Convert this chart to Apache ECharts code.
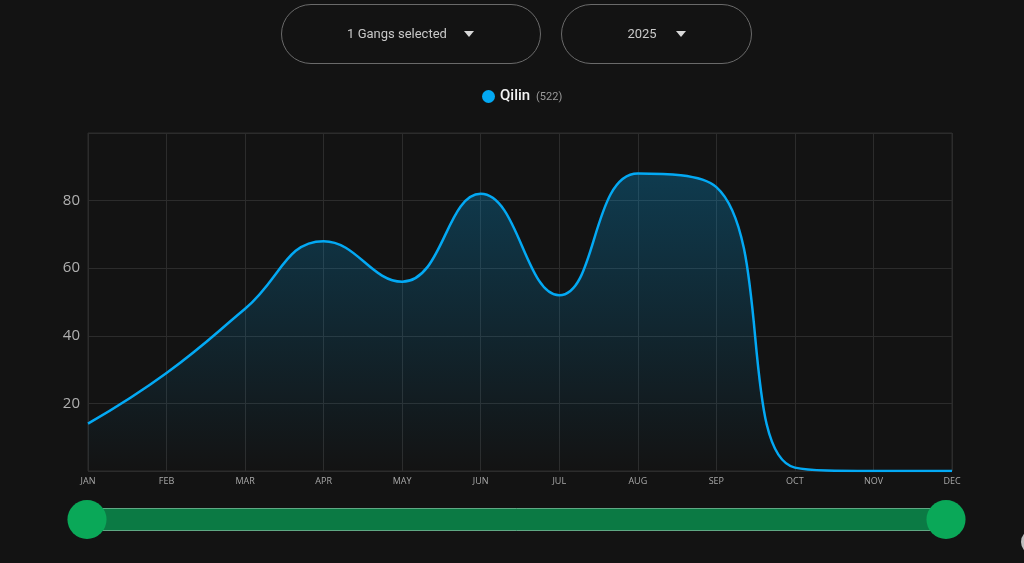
<!DOCTYPE html>
<html>
<head>
<meta charset="utf-8">
<script src="https://cdn.jsdelivr.net/npm/echarts@6/dist/echarts.min.js"></script>
<style>
  html, body { margin: 0; padding: 0; background: #131313; }
  #main { width: 1024px; height: 563px; }
</style>
</head>
<body>
<div id="main"></div>
<script>
// Data
var months = ['JAN', 'FEB', 'MAR', 'APR', 'MAY', 'JUN', 'JUL', 'AUG', 'SEP', 'OCT', 'NOV', 'DEC'];
var qilinCounts = [14, 29, 48, 68, 56, 82, 52, 88, 84, 1, 0, 0];
var gangName = 'Qilin';
var gangTotal = 522;
var yearLabel = '2025';
var gangsLabel = '1 Gangs selected';

var myChart = echarts.init(document.getElementById('main'));

var lineBlue = '#03a9f4';

var option = {
	backgroundColor: '#131313',
	textStyle: { fontFamily: 'Roboto, sans-serif' },
	legend: {
		top: 84,
		left: 477,
		icon: 'circle',
		itemWidth: 13,
		itemHeight: 13,
		itemGap: 6,
		selectedMode: false,
		data: [gangName],
		formatter: function (name) {
			return '{n|' + name + '}  {c|(' + gangTotal + ')}';
		},
		textStyle: {
			rich: {
				n: { color: '#f2f2f2', fontSize: 15, fontWeight: 500, fontFamily: 'Roboto' },
				c: { color: '#9a9a9a', fontSize: 11, fontFamily: 'Roboto', padding: [2, 0, 0, 0] }
			}
		}
	},
	grid: {
		left: 88,
		right: 72,
		top: 133,
		bottom: 92,
		show: true,
		borderColor: '#2c2c2c',
		borderWidth: 1
	},
	xAxis: {
		type: 'category',
		boundaryGap: false,
		data: months,
		axisLine: { show: false },
		axisTick: { show: false },
		axisLabel: { color: '#a8a8a8', fontSize: 9, margin: 6, fontFamily: 'Open Sans' },
		splitLine: { show: true, lineStyle: { color: '#2c2c2c', width: 1 } }
	},
	yAxis: {
		type: 'value',
		min: 0,
		max: 100,
		interval: 20,
		axisLine: { show: false },
		axisTick: { show: false },
		axisLabel: {
			color: '#b0b0b0',
			fontSize: 15,
			margin: 8,
			fontFamily: 'Open Sans',
			formatter: function (v) { return (v === 0 || v === 100) ? '' : v; }
		},
		splitLine: { lineStyle: { color: '#2c2c2c', width: 1 } }
	},
	dataZoom: [{
		type: 'slider',
		xAxisIndex: 0,
		start: 0,
		end: 100,
		left: 85,
		right: 78,
		bottom: 32,
		height: 23,
		showDetail: false,
		showDataShadow: false,
		brushSelect: false,
		moveHandleSize: 0,
		backgroundColor: '#0b7a44',
		fillerColor: '#0b7a44',
		borderColor: '#5fa884',
		borderRadius: 0,
		handleIcon: 'circle',
		handleSize: '170%',
		handleStyle: { color: '#0aa858', borderColor: '#0aa858', borderWidth: 0 },
		emphasis: { handleStyle: { color: '#0aa858', borderColor: '#0aa858' } }
	}],
	graphic: [
		{
			type: 'rect',
			shape: { x: 281.5, y: 4.5, width: 259, height: 59, r: 30 },
			style: { fill: 'transparent', stroke: '#6a6a6a', lineWidth: 1 }
		},
		{
			type: 'text',
			x: 397, y: 35,
			style: { text: gangsLabel, fill: '#c8c8c8', fontSize: 13, fontFamily: 'Roboto', align: 'center', verticalAlign: 'middle' }
		},
		{
			type: 'polygon',
			shape: { points: [[464, 31], [474, 31], [469, 37]] },
			style: { fill: '#d8d8d8' }
		},
		{
			type: 'rect',
			shape: { x: 561.5, y: 4.5, width: 190, height: 59, r: 30 },
			style: { fill: 'transparent', stroke: '#6a6a6a', lineWidth: 1 }
		},
		{
			type: 'text',
			x: 642, y: 35,
			style: { text: yearLabel, fill: '#c8c8c8', fontSize: 13, fontFamily: 'Roboto', align: 'center', verticalAlign: 'middle' }
		},
		{
			type: 'polygon',
			shape: { points: [[676, 31], [686, 31], [681, 37]] },
			style: { fill: '#d8d8d8' }
		},
		{
			type: 'circle',
			shape: { cx: 1034, cy: 542, r: 13 },
			style: { fill: '#bdbdbd' }
		}
	],
	series: [{
		name: gangName,
		type: 'line',
		data: qilinCounts,
		smooth: 0.45,
		showSymbol: false,
		symbol: 'circle',
		color: lineBlue,
		lineStyle: { color: lineBlue, width: 2.5 },
		areaStyle: {
			color: {
				type: 'linear', x: 0, y: 0, x2: 0, y2: 1,
				colorStops: [
					{ offset: 0, color: 'rgba(3,169,244,0.38)' },
					{ offset: 1, color: 'rgba(3,169,244,0.0)' }
				]
			}
		}
	}]
};

myChart.setOption(option);
</script>
</body>
</html>
